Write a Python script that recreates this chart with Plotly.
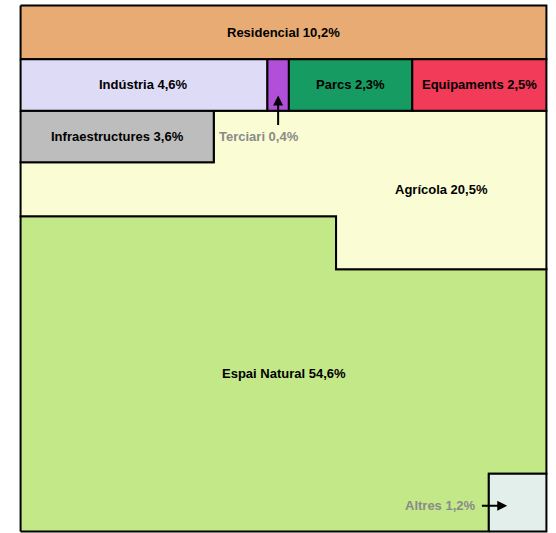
import math
import plotly.graph_objects as go

# land use shares (%)
top_row = ["Residencial"]
top_vals = [10.2]
row2_cats = ["Indústria", "Terciari", "Parcs", "Equipaments"]
row2_vals = [4.6, 0.4, 2.3, 2.5]
infra_val = 3.6
agri_val = 20.5
natural_val = 54.6
altres_val = 1.2

colors = {
    "Residencial": "#E8AB73",
    "Indústria": "#DDDBF6",
    "Terciari": "#B24FD9",
    "Parcs": "#169B62",
    "Equipaments": "#F23B59",
    "Infraestructures": "#BDBDBD",
    "Agrícola": "#FAFDD4",
    "Espai Natural": "#C3E887",
    "Altres": "#E3EFEB",
}

def fmt(v):
    return f"{v:.1f}".replace(".", ",") + "%"

# layout of a 100 x 100 square (area 10000 = 100%)
notch_w = 40.0      # width of the agricultural notch
notch_ratio = 0.5   # notch height relative to the band height

shapes_xy = {}
y = 100.0
h1 = top_vals[0]
shapes_xy["Residencial"] = ([0, 100, 100, 0, 0], [y, y, y - h1, y - h1, y])
y -= h1
h2 = sum(row2_vals)
x = 0.0
for c, v in zip(row2_cats, row2_vals):
    w = v / h2 * 100
    shapes_xy[c] = ([x, x + w, x + w, x, x], [y, y, y - h2, y - h2, y])
    x += w
y -= h2
y3 = y
infra_w = infra_val / h2 * 100
y_inf = y3 - h2
shapes_xy["Infraestructures"] = ([0, infra_w, infra_w, 0, 0], [y3, y3, y_inf, y_inf, y3])
band = (agri_val * 100 + infra_val * 100) / (100 + notch_w * notch_ratio)
y_band = y3 - band
y_notch = y_band - band * notch_ratio
nx = 100 - notch_w
shapes_xy["Agrícola"] = (
    [infra_w, 100, 100, nx, nx, 0, 0, infra_w, infra_w],
    [y3, y3, y_notch, y_notch, y_band, y_band, y_inf, y_inf, y3],
)
s = math.sqrt(altres_val * 100)
shapes_xy["Espai Natural"] = (
    [0, 100 - s, 100 - s, 100, 100, nx, nx, 0, 0],
    [0, 0, s, s, y_notch, y_notch, y_band, y_band, 0],
)
shapes_xy["Altres"] = ([100 - s, 100, 100, 100 - s, 100 - s], [0, 0, s, s, 0])

order = ["Espai Natural", "Agrícola", "Altres", "Infraestructures",
         "Residencial"] + row2_cats

fig = go.Figure()
for name in order:
    xs, ys = shapes_xy[name]
    fig.add_trace(go.Scatter(
        x=xs, y=ys, mode="lines", fill="toself",
        fillcolor=colors[name], line=dict(color="black", width=2),
        hoverinfo="skip", showlegend=False,
    ))

def center(name):
    xs, ys = shapes_xy[name]
    return (min(xs) + max(xs)) / 2, (min(ys) + max(ys)) / 2

font_b = dict(family="Liberation Sans, Arial", size=13, color="black", weight="bold")
font_g = dict(family="Liberation Sans, Arial", size=13, color="#8a8a8a", weight="bold")

labels = {"Residencial": top_vals[0], "Indústria": row2_vals[0], "Parcs": row2_vals[2],
          "Equipaments": row2_vals[3], "Infraestructures": infra_val}
for name, v in labels.items():
    cx, cy = center(name)
    fig.add_annotation(x=cx, y=cy, text=f"{name} {fmt(v)}", showarrow=False, font=font_b)

fig.add_annotation(x=(nx + 100) / 2, y=(y3 + y_notch) / 2, text=f"Agrícola {fmt(agri_val)}",
                   showarrow=False, font=font_b)
fig.add_annotation(x=50, y=y_band / 2, text=f"Espai Natural {fmt(natural_val)}",
                   showarrow=False, font=font_b)

# Terciari callout
tx, ty = center("Terciari")
fig.add_annotation(x=tx, y=ty - 2, ax=tx, ay=y3 - 3, axref="x", ayref="y", text="",
                   showarrow=True, arrowhead=2, arrowwidth=2, arrowsize=1, arrowcolor="black")
fig.add_annotation(x=infra_w + 0.6, y=(y3 + y_inf) / 2, xanchor="left",
                   text=f"Terciari {fmt(row2_vals[1])}", showarrow=False, font=font_g)

# Altres callout
fig.add_annotation(x=100 - s + 3.5, y=s / 2 - 0.6, ax=100 - s - 1.6, ay=s / 2 - 0.6,
                   axref="x", ayref="y", text="", showarrow=True, arrowhead=2,
                   arrowwidth=2, arrowsize=1, arrowcolor="black")
fig.add_annotation(x=100 - s - 2.1, y=s / 2 - 0.6, xanchor="right",
                   text=f"Altres {fmt(altres_val)}", showarrow=False, font=font_g)

fig.update_xaxes(range=[-0.3, 100.3], visible=False, fixedrange=True)
fig.update_yaxes(range=[-0.3, 100.3], visible=False, fixedrange=True)
fig.update_layout(
    width=556, height=533,
    margin=dict(l=19, r=8, t=4, b=0),
    plot_bgcolor="white", paper_bgcolor="white",
)

fig.write_html("out.html", config={"displayModeBar": False},
               post_script="document.body.style.margin = '0';")
